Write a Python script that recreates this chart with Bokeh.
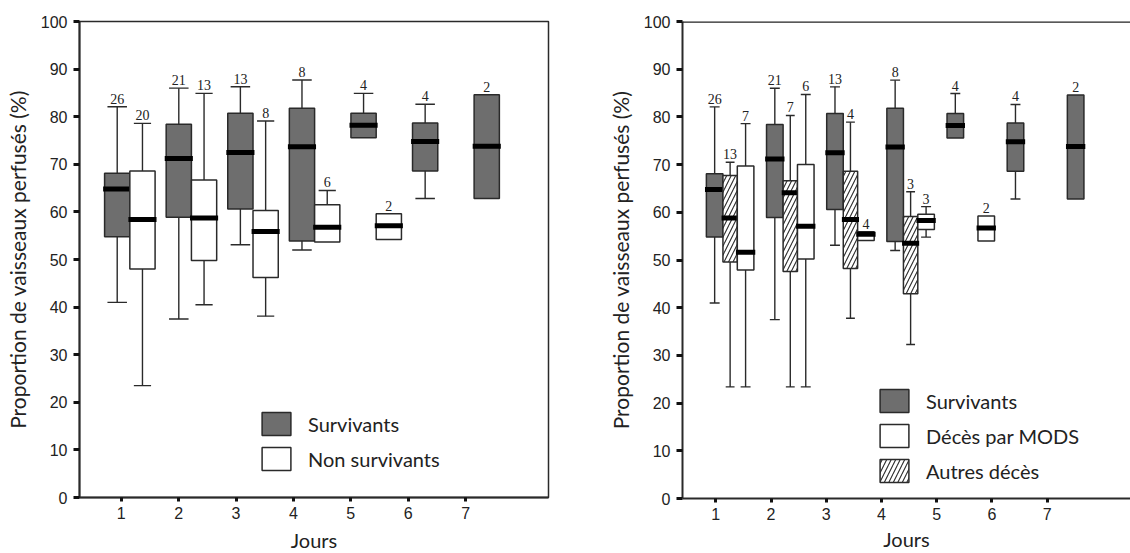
from bokeh.plotting import figure
from bokeh.layouts import row
from bokeh.models import Legend, LegendItem, Span, FixedTicker
from bokeh.core.properties import value
from bokeh.embed import file_html
from bokeh.resources import INLINE

# ---------------- data ----------------
tick_days = [1, 2, 3, 4, 5, 6, 7]
y_ticks = [0, 10, 20, 30, 40, 50, 60, 70, 80, 90, 100]

# Survivants (same in both panels)
surv_days = [1, 2, 3, 4, 5, 6, 7]
surv_n = [26, 21, 13, 8, 4, 4, 2]
surv_lo = [41.0, 37.5, 53.1, 52.0, None, 62.8, None]
surv_q1 = [54.8, 58.9, 60.6, 53.9, 75.6, 68.6, 62.8]
surv_med = [64.8, 71.2, 72.5, 73.7, 78.2, 74.8, 73.8]
surv_q3 = [68.1, 78.4, 80.7, 81.8, 80.7, 78.7, 84.6]
surv_hi = [82.1, 86.0, 86.3, 87.7, 84.9, 82.6, None]

# Non survivants (left panel)
non_days = [1, 2, 3, 4, 5]
non_n = [20, 13, 8, 6, 2]
non_lo = [23.5, 40.5, 38.1, None, None]
non_q1 = [48.0, 49.8, 46.2, 53.7, 54.2]
non_med = [58.4, 58.7, 55.9, 56.8, 57.1]
non_q3 = [68.6, 66.7, 60.3, 61.5, 59.6]
non_hi = [78.6, 84.9, 79.1, 64.5, None]

# Décès par MODS (right panel, white)
mods_days = [1, 2, 3, 4, 5]
mods_n = [7, 6, 4, 3, 2]
mods_lo = [23.4, 23.4, None, 54.8, None]
mods_q1 = [47.9, 50.2, 54.1, 56.4, 54.0]
mods_med = [51.6, 57.1, 55.4, 58.3, 56.7]
mods_q3 = [69.7, 70.0, 55.9, 59.6, 59.2]
mods_hi = [78.6, 84.7, None, 61.2, None]

# Autres décès (right panel, hatched)
aut_days = [1, 2, 3, 4]
aut_n = [13, 7, 4, 3]
aut_lo = [23.4, 23.4, 37.8, 32.3]
aut_q1 = [49.6, 47.6, 48.2, 42.9]
aut_med = [58.8, 64.1, 58.5, 53.5]
aut_q3 = [67.7, 66.6, 68.6, 59.1]
aut_hi = [70.5, 80.3, 78.9, 64.3]

y_label = "Proportion de vaisseaux perfusés (%)"
x_label = "Jours"

# ---------------- styling ----------------
GRAY = "#6e6e6e"
LINE = "#2a2a2a"
TICK_FONT = "Liberation Sans"
TITLE_FONT = "Lato"


def draw_series(p, sd, n, lo, q1, med, q3, hi, x0, step, offset, width, cap,
                fill, hatch=False):
    xs = [x0 + (d - 1) * step + offset for d in sd]
    kw = dict(fill_color=fill, line_color=LINE, line_width=1.5)
    if hatch:
        kw.update(hatch_pattern="/", hatch_color=LINE, hatch_scale=9,
                  hatch_weight=1.1)
    ux = [x for x, h in zip(xs, hi) if h is not None]
    uy0 = [q for q, h in zip(q3, hi) if h is not None]
    uy1 = [h for h in hi if h is not None]
    lx = [x for x, l in zip(xs, lo) if l is not None]
    ly0 = [q for q, l in zip(q1, lo) if l is not None]
    ly1 = [l for l in lo if l is not None]
    p.segment(x0=ux, y0=uy0, x1=ux, y1=uy1, line_color=LINE, line_width=1.4)
    p.segment(x0=lx, y0=ly0, x1=lx, y1=ly1, line_color=LINE, line_width=1.4)
    p.segment(x0=[x - cap / 2 for x in ux], y0=uy1,
              x1=[x + cap / 2 for x in ux], y1=uy1,
              line_color=LINE, line_width=1.4)
    p.segment(x0=[x - cap / 2 for x in lx], y0=ly1,
              x1=[x + cap / 2 for x in lx], y1=ly1,
              line_color=LINE, line_width=1.4)
    r = p.vbar(x=xs, width=width, top=q3, bottom=q1, **kw)
    p.rect(x=xs, y=med, width=width + 0.05, height=5, height_units="screen",
           fill_color="#000000", line_color=None)
    tops = [h if h is not None else q for h, q in zip(hi, q3)]
    p.text(x=xs, y=tops, text=[str(v) for v in n],
           text_font=value("Liberation Serif"), text_font_size="14px",
           text_align="center", text_baseline="bottom", y_offset=-3,
           text_color="#222222")
    return r


def base_fig(x_start, x_end, frame_w, frame_h, left, right, top, bottom,
             xlab_standoff):
    p = figure(output_backend="svg", toolbar_location=None,
               x_range=(x_start, x_end), y_range=(0, 100),
               frame_width=frame_w, frame_height=frame_h,
               min_border_left=left, min_border_right=right,
               min_border_top=top, min_border_bottom=bottom,
               background_fill_color="white", border_fill_color="white")
    p.xgrid.visible = False
    p.ygrid.visible = False
    p.xaxis.ticker = FixedTicker(ticks=tick_days)
    p.yaxis.ticker = FixedTicker(ticks=y_ticks)
    for ax in (p.xaxis[0], p.yaxis[0]):
        ax.axis_line_color = LINE
        ax.axis_line_width = 2
        ax.major_tick_line_color = "#111111"
        ax.major_tick_line_width = 3
        ax.major_tick_in = 0
        ax.minor_tick_line_color = None
        ax.major_label_text_font = TICK_FONT
        ax.major_label_text_font_size = "16px"
        ax.major_label_text_color = "#222222"
        ax.axis_label_text_font = TITLE_FONT
        ax.axis_label_text_font_style = "normal"
        ax.axis_label_text_color = "#222222"
    p.yaxis.major_tick_out = 6
    p.xaxis.major_tick_out = 4
    p.yaxis.major_label_standoff = 6
    p.xaxis.major_label_standoff = 5
    p.yaxis.axis_label = y_label
    p.xaxis.axis_label = x_label
    p.yaxis.axis_label_text_font_size = "21px"
    p.xaxis.axis_label_text_font_size = "20px"
    p.yaxis.axis_label_standoff = 8
    p.xaxis.axis_label_standoff = xlab_standoff
    return p


def add_legend(p, items, loc):
    leg = Legend(items=[LegendItem(label=l, renderers=[r]) for l, r in items],
                 location=loc, orientation="vertical",
                 border_line_color=None, background_fill_alpha=0,
                 padding=0, margin=0, spacing=6,
                 glyph_width=36, glyph_height=29, label_height=23,
                 label_standoff=14, label_text_font=TITLE_FONT,
                 label_text_font_size="20px", label_text_color="#222222")
    p.add_layout(leg)


# ---------------- left panel ----------------
pl = base_fig(0.273, 8.444, 469, 476, 79, 20, 20, 57, 6)
pl.outline_line_color = LINE
pl.outline_line_width = 1.5
rs = draw_series(pl, surv_days, surv_n, surv_lo, surv_q1, surv_med, surv_q3,
                 surv_hi, 0.93, 1.073, 0.0, 0.44, 0.34, GRAY)
rn = draw_series(pl, non_days, non_n, non_lo, non_q1, non_med, non_q3,
                 non_hi, 0.93, 1.073, 0.44, 0.44, 0.3, "white")
add_legend(pl, [("Survivants", rs), ("Non survivants", rn)], (179, 24))

# ---------------- right panel ----------------
pr = base_fig(0.398, 8.507, 448, 477, 114, 0, 21, 55, 4)
pr.outline_line_color = None
pr.add_layout(Span(location=100, dimension="width", line_color="#222222",
                   line_width=2.5))
rs2 = draw_series(pr, surv_days, surv_n, surv_lo, surv_q1, surv_med, surv_q3,
                  surv_hi, 0.98, 1.089, 0.0, 0.30, 0.18, GRAY)
ra = draw_series(pr, aut_days, aut_n, aut_lo, aut_q1, aut_med, aut_q3,
                 aut_hi, 0.98, 1.089, 0.28, 0.26, 0.16, "white", hatch=True)
rm = draw_series(pr, mods_days, mods_n, mods_lo, mods_q1, mods_med, mods_q3,
                 mods_hi, 0.98, 1.089, 0.56, 0.30, 0.18, "white")
add_legend(pr, [("Survivants", rs2), ("Décès par MODS", rm),
                ("Autres décès", ra)], (194, 13))

layout = row(pl, pr)
open("out.html", "w").write(file_html(layout, INLINE))
